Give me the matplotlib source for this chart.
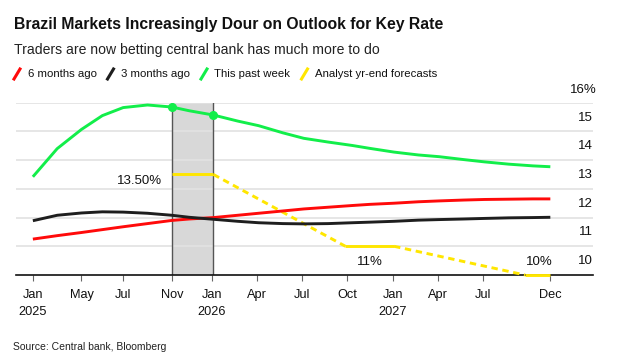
import matplotlib
matplotlib.use('Agg')
import matplotlib.pyplot as plt
import matplotlib.dates as mdates
import numpy as np
from matplotlib.lines import Line2D

plt.rcParams['font.family'] = ['Liberation Sans', 'DejaVu Sans']

# curve dates (rate-meeting spacing)
dates = np.array(['2025-01-29', '2025-03-19', '2025-05-07', '2025-06-18', '2025-07-30',
                  '2025-09-17', '2025-11-05', '2025-12-10', '2026-01-28', '2026-03-18',
                  '2026-04-29', '2026-06-17', '2026-07-29', '2026-09-16', '2026-11-04',
                  '2026-12-09', '2027-01-27', '2027-03-17', '2027-04-28', '2027-06-16',
                  '2027-07-28', '2027-09-15', '2027-11-03', '2027-12-08'], dtype='datetime64[D]')

six_months_ago = [11.25, 11.37, 11.48, 11.58, 11.68, 11.79, 11.90, 11.95, 12.00, 12.08,
                  12.15, 12.23, 12.30, 12.36, 12.42, 12.46, 12.50, 12.55, 12.58, 12.61,
                  12.63, 12.64, 12.65, 12.65]
three_months_ago = [11.89, 12.08, 12.16, 12.20, 12.19, 12.15, 12.08, 12.01, 11.94, 11.87,
                    11.82, 11.79, 11.78, 11.79, 11.82, 11.84, 11.87, 11.91, 11.93, 11.95,
                    11.97, 11.99, 12.00, 12.01]
past_week = [13.42, 14.40, 15.07, 15.55, 15.83, 15.92, 15.85, 15.72, 15.57, 15.36,
             15.20, 14.95, 14.76, 14.63, 14.51, 14.41, 14.28, 14.18, 14.12, 14.02,
             13.94, 13.86, 13.80, 13.77]

# analyst year-end forecasts
fc_dates = np.array(['2025-11-05', '2026-01-28', '2026-10-21', '2027-01-27',
                     '2027-10-18', '2027-12-08'], dtype='datetime64[D]')
fc_values = [13.5, 13.5, 11.0, 11.0, 10.0, 10.0]
fc_labels = ['13.50%', '11%', '10%']

tick_dates = np.array(['2025-01-29', '2025-05-07', '2025-07-30', '2025-11-05', '2026-01-25',
                       '2026-04-26', '2026-07-26', '2026-10-25', '2027-01-24', '2027-04-25',
                       '2027-07-25', '2027-12-08'], dtype='datetime64[D]')
tick_labels = ['Jan', 'May', 'Jul', 'Nov', 'Jan', 'Apr', 'Jul', 'Oct',
               'Jan', 'Apr', 'Jul', 'Dec']
year_labels = {0: '2025', 4: '2026', 8: '2027'}
y_ticks = [10, 11, 12, 13, 14, 15, 16]

RED = '#ff0a0a'
BLACK = '#1e1e1e'
GREEN = '#12ee4a'
YELLOW = '#ffe600'

W, H = 640, 359
fig = plt.figure(figsize=(W / 100, H / 100), dpi=100)
ax = fig.add_axes([16 / W, 1 - 275 / H, (593 - 16) / W, (275 - 102.7) / H])

xd = dates.astype('O')
ax.plot(xd, six_months_ago, color=RED, lw=2.1, zorder=4, solid_capstyle='butt')
ax.plot(xd, three_months_ago, color=BLACK, lw=2.1, zorder=4, solid_capstyle='butt')
ax.plot(xd, past_week, color=GREEN, lw=2.1, zorder=5, solid_capstyle='butt',
        marker='o', ms=5.5, markevery=[6, 8])

fx = fc_dates.astype('O')
for i in range(len(fx) - 1):
    ls = '-' if i % 2 == 0 else (0, (2.2, 1.6))
    ax.plot(fx[i:i + 2], fc_values[i:i + 2], color=YELLOW, lw=2.1, ls=ls, zorder=3,
            solid_capstyle='butt', clip_on=False)

lab_kw = dict(fontsize=9.5, color='#111')
ax.text(mdates.date2num(np.datetime64('2025-10-17').astype('O')), 13.28, fc_labels[0],
        ha='right', va='center', **lab_kw)
ax.text(mdates.date2num(np.datetime64('2026-12-09').astype('O')), 10.46, fc_labels[1],
        ha='center', va='center', **lab_kw)
ax.text(mdates.date2num(np.datetime64('2027-11-15').astype('O')), 10.45, fc_labels[2],
        ha='center', va='center', **lab_kw)

# shaded window
s0, s1 = fx[0], fx[1]
ax.axvspan(s0, s1, color='#d8d8d8', zorder=0, lw=0)
ax.axvline(s0, color='#555555', lw=1, zorder=1)
ax.axvline(s1, color='#555555', lw=1, zorder=1)

ax.set_xlim(np.datetime64('2024-12-26').astype('O'), np.datetime64('2028-03-03').astype('O'))
ax.set_ylim(10, 16)

for v in y_ticks[1:]:
    ax.axhline(v, color='#e2e2e2', lw=1.2, zorder=0.5)
for v in y_ticks[:-1]:
    ax.text(1.0, v + 0.48, str(v), transform=ax.get_yaxis_transform(),
            ha='right', va='center', **lab_kw)
ax.text(1.006, y_ticks[-1] + 0.45, f'{y_ticks[-1]}%', transform=ax.get_yaxis_transform(),
        ha='right', va='center', **lab_kw)

ax.set_yticks([])
ax.set_xticks(tick_dates.astype('O'))
ax.set_xticklabels(tick_labels, fontsize=9.2, color='#111')
ax.tick_params(axis='x', length=4, width=0.8, color='#666666', pad=6)
for i, yl in year_labels.items():
    ax.text(tick_dates[i].astype('O'), -0.18, yl, transform=ax.get_xaxis_transform(),
            ha='center', va='top', fontsize=9.2, color='#111')
for s in ['top', 'left', 'right']:
    ax.spines[s].set_visible(False)
ax.spines['bottom'].set_color('#111')
ax.spines['bottom'].set_linewidth(1.2)
ax.spines['bottom'].set_zorder(2)

# header
fig.text(14 / W, 1 - 25 / H, 'Brazil Markets Increasingly Dour on Outlook for Key Rate',
         fontsize=11.35, fontweight='bold', va='center', ha='left', color='#111')
fig.text(14 / W, 1 - 50 / H, 'Traders are now betting central bank has much more to do',
         fontsize=10.1, va='center', ha='left', color='#222')

# legend row with slash keys
legend_items = [('6 months ago', RED), ('3 months ago', BLACK),
                ('This past week', GREEN), ('Analyst yr-end forecasts', YELLOW)]
fig.canvas.draw()
renderer = fig.canvas.get_renderer()
x = 14.0
ly = 74.0
for label, col in legend_items:
    fig.add_artist(Line2D([x / W, (x + 6) / W], [1 - (ly + 5) / H, 1 - (ly - 5) / H],
                          color=col, lw=2.2, transform=fig.transFigure))
    x += 13.5
    t = fig.text(x / W, 1 - ly / H, label, fontsize=8.2, va='center', ha='left', color='#111')
    x += t.get_window_extent(renderer).width + 11.0

fig.text(13 / W, 1 - 347 / H, 'Source: Central bank, Bloomberg', fontsize=7.5,
         va='center', ha='left', color='#222')

fig.savefig('out.png', dpi=100)
